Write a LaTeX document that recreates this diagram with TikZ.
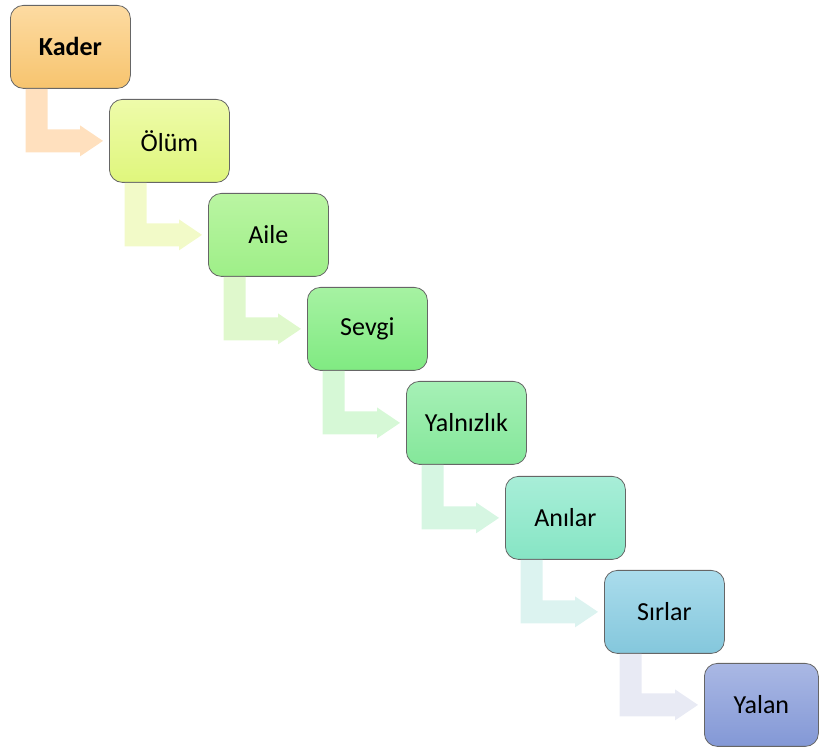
\documentclass[tikz,border=0pt]{standalone}
\usepackage{fontspec}
\setmainfont{Carlito}
\usetikzlibrary{calc}
\tikzset{
  box/.style={draw=black!60, line width=0.8pt, rounded corners=13pt, minimum width=120pt, minimum height=83pt, inner sep=0pt, anchor=north west, font=\fontsize{26}{28}\selectfont},
  flow/.style={fill=#1, draw=none}
}
\definecolor{kT}{HTML}{FDDBA2}\definecolor{kB}{HTML}{F7C46E}
\definecolor{oT}{HTML}{EEFBAA}\definecolor{oB}{HTML}{DFF67C}
\definecolor{aT}{HTML}{BAF5A2}\definecolor{aB}{HTML}{9EEF88}
\definecolor{sT}{HTML}{A6F2A2}\definecolor{sB}{HTML}{80EA82}
\definecolor{yT}{HTML}{A6F0B6}\definecolor{yB}{HTML}{84E79A}
\definecolor{nT}{HTML}{A8EED8}\definecolor{nB}{HTML}{86E5C4}
\definecolor{rT}{HTML}{AADCEC}\definecolor{rB}{HTML}{84C7DC}
\definecolor{lT}{HTML}{AAB8E4}\definecolor{lB}{HTML}{8398D6}
\definecolor{a1}{HTML}{FFE0BE}
\definecolor{a2}{HTML}{F2FAC8}
\definecolor{a3}{HTML}{DFF8CC}
\definecolor{a4}{HTML}{D6F8D6}
\definecolor{a5}{HTML}{D6F6E2}
\definecolor{a6}{HTML}{DCF3F0}
\definecolor{a7}{HTML}{E8EAF4}
\newcommand{\stepflow}[3]{%
  \fill[#3] let \p1=(#1.south west), \p2=(#2.west) in
    (\x1+15.5pt,\y1) -- (\x1+37.5pt,\y1) -- (\x1+37.5pt,\y2+11.5pt)
    -- (\x2-29pt,\y2+11.5pt) -- (\x2-29pt,\y2+15.5pt) -- (\x2-6pt,\y2)
    -- (\x2-29pt,\y2-15.5pt) -- (\x2-29pt,\y2-11.5pt) -- (\x1+15.5pt,\y2-11.5pt) -- cycle;}
\begin{document}
\begin{tikzpicture}[x=1pt,y=1pt]
\useasboundingbox (0,0) rectangle (820,749);
\node[box, top color=kT, bottom color=kB] (b0) at (10,749-5) {\textbf{Kader}};
\node[box, top color=oT, bottom color=oB] (b1) at (109,749-99) {Ölüm};
\node[box, top color=aT, bottom color=aB] (b2) at (208,749-193) {Aile};
\node[box, top color=sT, bottom color=sB] (b3) at (307,749-287) {Sevgi};
\node[box, top color=yT, bottom color=yB] (b4) at (406,749-381) {Yalnızlık};
\node[box, top color=nT, bottom color=nB] (b5) at (505,749-476) {Anılar};
\node[box, top color=rT, bottom color=rB] (b6) at (604,749-570) {Sırlar};
\node[box, top color=lT, bottom color=lB, minimum width=114pt] (b7) at (704,749-663) {Yalan};
\stepflow{b0}{b1}{a1}
\stepflow{b1}{b2}{a2}
\stepflow{b2}{b3}{a3}
\stepflow{b3}{b4}{a4}
\stepflow{b4}{b5}{a5}
\stepflow{b5}{b6}{a6}
\stepflow{b6}{b7}{a7}
\end{tikzpicture}
\end{document}
